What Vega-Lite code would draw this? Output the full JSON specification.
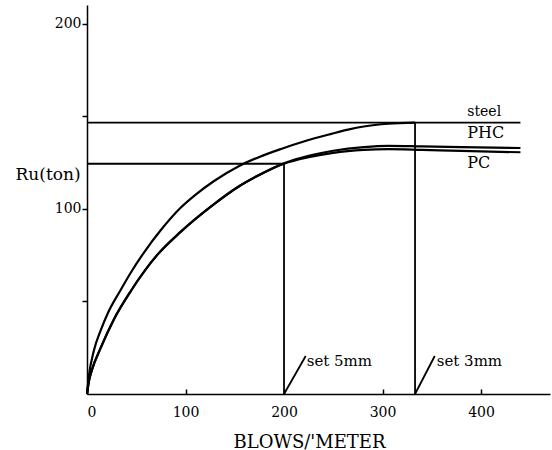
{
  "$schema": "https://vega.github.io/schema/vega-lite/v6.json",
  "autosize": {"type": "none"},
  "padding": {"left": 87, "top": 5, "right": 2, "bottom": 56},
  "width": 463,
  "height": 389,
  "background": "white",
  "config": {
    "view": {"stroke": null},
    "font": "DejaVu Serif",
    "axis": {"labelFont": "DejaVu Serif", "titleFont": "DejaVu Serif", "labelColor": "black", "titleColor": "black", "domainColor": "black", "tickColor": "black", "grid": false, "titleFontWeight": "normal"}
  },
  "datasets": {
    "curves": [
      {"series": "steel", "x": 0, "y": 0},
      {"series": "steel", "x": 2, "y": 10},
      {"series": "steel", "x": 7, "y": 23.5},
      {"series": "steel", "x": 14, "y": 34.5},
      {"series": "steel", "x": 21, "y": 43.5},
      {"series": "steel", "x": 34, "y": 56},
      {"series": "steel", "x": 45, "y": 66},
      {"series": "steel", "x": 58, "y": 76.5},
      {"series": "steel", "x": 75, "y": 88.5},
      {"series": "steel", "x": 95, "y": 100.5},
      {"series": "steel", "x": 110, "y": 107.5},
      {"series": "steel", "x": 129, "y": 115},
      {"series": "steel", "x": 154, "y": 123},
      {"series": "steel", "x": 175, "y": 128},
      {"series": "steel", "x": 197, "y": 132.3},
      {"series": "steel", "x": 220, "y": 136.3},
      {"series": "steel", "x": 248, "y": 140.4},
      {"series": "steel", "x": 265, "y": 142.7},
      {"series": "steel", "x": 281, "y": 144.4},
      {"series": "steel", "x": 306, "y": 145.9},
      {"series": "steel", "x": 333, "y": 146.5},
      {"series": "PHC", "x": 0, "y": 0},
      {"series": "PHC", "x": 2, "y": 7},
      {"series": "PHC", "x": 5, "y": 13},
      {"series": "PHC", "x": 14, "y": 25},
      {"series": "PHC", "x": 27, "y": 40},
      {"series": "PHC", "x": 45, "y": 56},
      {"series": "PHC", "x": 72, "y": 75.5},
      {"series": "PHC", "x": 95, "y": 87.5},
      {"series": "PHC", "x": 129, "y": 102.5},
      {"series": "PHC", "x": 154, "y": 112},
      {"series": "PHC", "x": 175, "y": 118.4},
      {"series": "PHC", "x": 200, "y": 124.6},
      {"series": "PHC", "x": 225, "y": 128.6},
      {"series": "PHC", "x": 250, "y": 131.3},
      {"series": "PHC", "x": 281, "y": 133.3},
      {"series": "PHC", "x": 306, "y": 134},
      {"series": "PHC", "x": 340, "y": 133.7},
      {"series": "PHC", "x": 380, "y": 133.3},
      {"series": "PHC", "x": 440, "y": 132.8},
      {"series": "PC", "x": 0, "y": 0},
      {"series": "PC", "x": 2, "y": 7},
      {"series": "PC", "x": 5, "y": 13},
      {"series": "PC", "x": 14, "y": 25},
      {"series": "PC", "x": 27, "y": 40},
      {"series": "PC", "x": 45, "y": 56},
      {"series": "PC", "x": 72, "y": 75.5},
      {"series": "PC", "x": 95, "y": 87.5},
      {"series": "PC", "x": 129, "y": 102.5},
      {"series": "PC", "x": 154, "y": 112},
      {"series": "PC", "x": 175, "y": 118.2},
      {"series": "PC", "x": 200, "y": 124.3},
      {"series": "PC", "x": 225, "y": 127.8},
      {"series": "PC", "x": 250, "y": 130.2},
      {"series": "PC", "x": 281, "y": 131.8},
      {"series": "PC", "x": 306, "y": 132.2},
      {"series": "PC", "x": 340, "y": 131.8},
      {"series": "PC", "x": 380, "y": 131.2},
      {"series": "PC", "x": 440, "y": 130.5}
    ],
    "segments": [
      {"x": 0, "y": 146.5, "x2": 440, "y2": 146.5},
      {"x": 0, "y": 124.3, "x2": 200, "y2": 124.3},
      {"x": 200, "y": 0, "x2": 200, "y2": 124.3},
      {"x": 333, "y": 0, "x2": 333, "y2": 146.5},
      {"x": 200, "y": 0, "x2": 222, "y2": 20.5},
      {"x": 333, "y": 0, "x2": 353, "y2": 20.5}
    ],
    "labels": [
      {"group": "small", "text": "steel", "x": 386, "y": 152.5},
      {"group": "big", "text": "PHC", "x": 386, "y": 141},
      {"group": "big", "text": "PC", "x": 386, "y": 124.5},
      {"group": "set", "text": "set 5mm", "x": 223, "y": 18},
      {"group": "set", "text": "set 3mm", "x": 355, "y": 18}
    ]
  },
  "layer": [
    {
      "data": {"name": "curves"},
      "mark": {"type": "line", "color": "black", "strokeWidth": 2.2, "interpolate": "monotone"},
      "encoding": {
        "x": {"field": "x", "type": "quantitative", "scale": {"domain": [0, 470], "nice": false},
          "axis": {"values": [0, 100, 200, 300, 400], "tickSize": -5, "labelPadding": 16, "labelFontSize": 14, "domainWidth": 1.5, "tickWidth": 1.5,
            "title": "BLOWS/'METER", "titleFontSize": 18, "titleX": 222, "titleY": 48, "titleAlign": "center", "titleBaseline": "middle"}},
        "y": {"field": "y", "type": "quantitative", "scale": {"domain": [0, 210], "nice": false},
          "axis": {"values": [50, 100, 150, 200], "tickSize": 5, "labelPadding": 1, "labelFontSize": 14, "domainWidth": 1.5, "tickWidth": 1.5,
            "labelExpr": "datum.value % 100 == 0 ? datum.label : ''",
            "title": "Ru(ton)", "titleFontSize": 17, "titleAngle": 0, "titleX": -72, "titleY": 169, "titleAlign": "left", "titleBaseline": "middle"}},
        "detail": {"field": "series", "type": "nominal"},
        "order": {"field": "x", "type": "quantitative"}
      }
    },
    {
      "data": {"name": "segments"},
      "mark": {"type": "rule", "color": "black", "strokeWidth": 1.8},
      "encoding": {
        "x": {"field": "x", "type": "quantitative"},
        "y": {"field": "y", "type": "quantitative"},
        "x2": {"field": "x2"},
        "y2": {"field": "y2"}
      }
    },
    {
      "data": {"name": "labels"},
      "transform": [{"filter": "datum.group == 'small'"}],
      "mark": {"type": "text", "align": "left", "baseline": "middle", "fontSize": 14, "color": "black"},
      "encoding": {
        "x": {"field": "x", "type": "quantitative"},
        "y": {"field": "y", "type": "quantitative"},
        "text": {"field": "text"}
      }
    },
    {
      "data": {"name": "labels"},
      "transform": [{"filter": "datum.group == 'big'"}],
      "mark": {"type": "text", "align": "left", "baseline": "middle", "fontSize": 16, "color": "black"},
      "encoding": {
        "x": {"field": "x", "type": "quantitative"},
        "y": {"field": "y", "type": "quantitative"},
        "text": {"field": "text"}
      }
    },
    {
      "data": {"name": "labels"},
      "transform": [{"filter": "datum.group == 'set'"}],
      "mark": {"type": "text", "align": "left", "baseline": "middle", "fontSize": 15, "color": "black"},
      "encoding": {
        "x": {"field": "x", "type": "quantitative"},
        "y": {"field": "y", "type": "quantitative"},
        "text": {"field": "text"}
      }
    }
  ]
}
